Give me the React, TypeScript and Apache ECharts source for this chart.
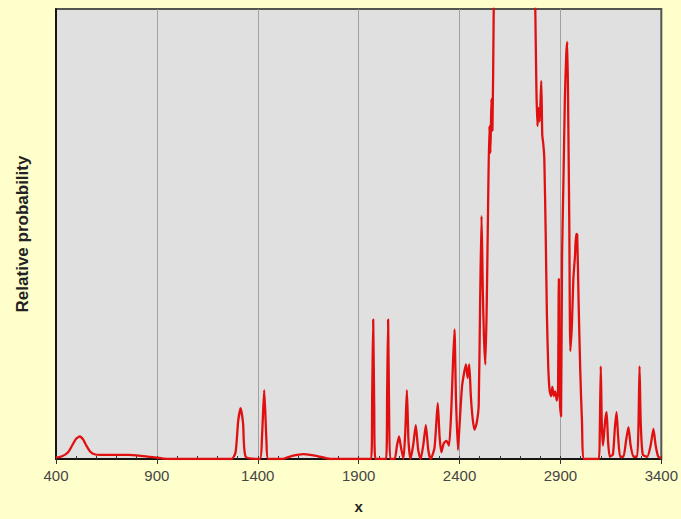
import React, { useEffect, useRef } from "react";
import * as echarts from "echarts";

// Axis range and tick labels
const xMin = 400;
const xMax = 3400;
const tickLabels = ["400", "900", "1400", "1900", "2400", "2900", "3400"];

// Density curve, read in segments along x
const lowX = [400, 430, 460, 480, 500, 518, 535, 550, 570, 595, 640, 700, 760, 820, 880, 930, 970];
const lowY = [0.3, 0.6, 1.5, 3.0, 4.5, 5.0, 4.3, 3.0, 1.6, 1.0, 0.9, 0.9, 0.9, 0.7, 0.4, 0.1, 0];

const midX = [1270, 1290, 1303, 1315, 1327, 1340, 1410, 1421, 1432, 1443, 1452, 1520, 1570, 1627, 1690, 1760];
const midY = [0, 1.5, 8.5, 11.3, 8, 0.5, 0, 5, 15.3, 4, 0, 0, 0.7, 1.1, 0.7, 0];

const riseX = [
  1962, 1967, 1972, 1977, 1983, 2036, 2041, 2046, 2051, 2057, 2078, 2090, 2100, 2110, 2122,
  2131, 2139, 2147, 2157, 2170, 2183, 2195, 2207, 2220, 2233, 2245, 2257, 2276, 2292, 2301,
  2310, 2322, 2335, 2348, 2360, 2368, 2375, 2382, 2392, 2402, 2412, 2422, 2432, 2440, 2448,
  2456, 2465, 2474, 2485, 2495, 2502, 2509, 2515, 2521, 2528, 2535, 2542, 2548, 2553, 2558,
  2563, 2569, 2576, 2585,
];
const riseY = [
  0, 14, 31, 12, 0, 0, 14, 31, 10, 0, 0, 3, 5, 2.5, 0,
  6, 15.3, 4, 0, 3, 7.5, 2, 0, 3, 7.5, 2, 0, 2.5, 12.4, 5,
  1.5, 3.5, 4, 3, 12, 22, 28.8, 14, 2, 9, 16, 19, 21, 18, 21,
  14, 9, 6.5, 8, 12, 35, 54, 38, 27, 21, 35, 58, 74, 68, 80,
  73, 98, 125, 150,
];

const peakX = [
  2610, 2660, 2710, 2760, 2770, 2776, 2781, 2786, 2791, 2797, 2805, 2810, 2815, 2820, 2827,
  2833, 2840, 2847, 2854, 2860, 2867, 2874, 2882, 2888, 2892, 2898, 2903, 2908, 2915, 2922,
  2929, 2934, 2939, 2944, 2949, 2957, 2964, 2972, 2978, 2983, 2990, 2998, 3007, 3018,
];
const peakY = [
  165, 175, 170, 140, 115, 98, 82, 74, 78, 75, 84, 72, 70, 67, 50,
  32, 20, 15, 14, 16, 14, 15, 13, 15, 40, 12, 9.5, 45, 62, 80,
  90, 92.7, 75, 52, 24, 30, 40, 45, 50, 49.9, 35, 20, 8, 0,
];

const tailX = [
  3090, 3095, 3100, 3105, 3111, 3117, 3123, 3129, 3136, 3145, 3160, 3170, 3178, 3186, 3196,
  3212, 3225, 3237, 3248, 3262, 3280, 3287, 3292, 3298, 3308, 3330, 3347, 3361, 3372, 3385, 3400,
];
const tailY = [
  0, 6, 20.6, 8, 3, 6, 9, 10.4, 4, 0.5, 1, 7, 10.4, 5, 0.5,
  0.5, 4, 7.1, 3, 0.5, 0.5, 8, 20.6, 8, 1, 0.5, 3, 6.7, 3, 0.5, 0.2,
];

const segments: [number[], number[]][] = [
  [lowX, lowY],
  [midX, midY],
  [riseX, riseY],
  [peakX, peakY],
  [tailX, tailY],
];

const curve: [number, number][] = [];
segments.forEach(([xs, ys]) => xs.forEach((x, i) => curve.push([x, ys[i]])));

const FONT = "Arial, 'Liberation Sans', sans-serif";

export default function App() {
  const ref = useRef<HTMLDivElement>(null);

  useEffect(() => {
    document.body.style.margin = "0";
    const chart = echarts.init(ref.current!, null, { renderer: "svg" });
    chart.setOption({
      animation: false,
      backgroundColor: "#FFFFCC",
      grid: {
        left: 56,
        right: 16,
        top: 9,
        bottom: 59,
        show: true,
        backgroundColor: "#E0E0E0",
        borderColor: "#555550",
        borderWidth: 2,
      },
      xAxis: [
        {
          // data axis: carries the curve and the small 100-step ticks
          type: "value",
          min: xMin,
          max: xMax,
          interval: 100,
          axisLine: { show: true, onZero: false, lineStyle: { color: "#000", width: 1.5 } },
          axisTick: { show: true, inside: true, length: 3, lineStyle: { color: "#333" } },
          axisLabel: { show: false },
          splitLine: { show: false },
        },
        {
          // label axis: major ticks every 500, offset so they fall on 400, 900, ...
          type: "value",
          position: "bottom",
          min: 0,
          max: xMax - xMin,
          interval: 500,
          axisLine: { show: false },
          axisTick: { show: true, length: 5, lineStyle: { color: "#333" } },
          axisLabel: {
            show: true,
            margin: 9,
            color: "#454545",
            fontFamily: FONT,
            fontSize: 15,
            formatter: (v: number) => tickLabels[Math.round(v / 500)] ?? "",
          },
          splitLine: {
            show: true,
            showMinLine: false,
            showMaxLine: false,
            lineStyle: { color: "#A0A0A0", width: 1 },
          },
          name: "x",
          nameLocation: "middle",
          nameGap: 40,
          nameTextStyle: { fontFamily: FONT, fontSize: 15, fontWeight: "bold", color: "#222" },
        },
      ],
      yAxis: {
        type: "value",
        min: 0,
        max: 100,
        axisLine: { show: true, lineStyle: { color: "#000", width: 1.5 } },
        axisTick: { show: false },
        axisLabel: { show: false },
        splitLine: { show: false },
        name: "Relative probability",
        nameLocation: "middle",
        nameGap: 25,
        nameTextStyle: { fontFamily: FONT, fontSize: 17, fontWeight: "bold", color: "#222" },
      },
      series: [
        {
          type: "line",
          xAxisIndex: 0,
          data: curve,
          showSymbol: false,
          smooth: 0.2,
          clip: true,
          lineStyle: { color: "#E01010", width: 2.3 },
        },
      ],
    });
    return () => chart.dispose();
  }, []);

  return <div ref={ref} style={{ width: 681, height: 519 }} />;
}
